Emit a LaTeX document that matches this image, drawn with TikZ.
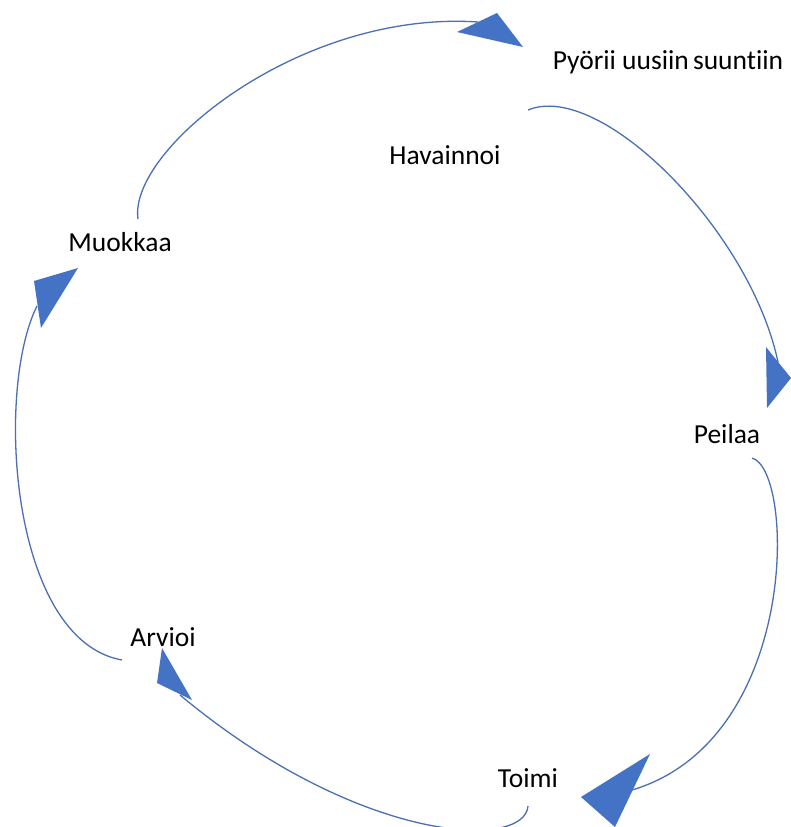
\documentclass[tikz,border=0pt]{standalone}
\usepackage{fontspec}
\setmainfont[Ligatures=NoCommon]{Carlito}
\begin{document}
\definecolor{cyclefill}{HTML}{4472C4}
\definecolor{cycleline}{HTML}{4A6FB3}
\begin{tikzpicture}[x=1pt,y=-1pt,
  label/.style={font=\fontsize{27.5}{30}\selectfont, inner sep=0pt, text=black},
  link/.style={draw=cycleline, line width=1.3pt},
  headtri/.style={fill=cyclefill, draw=none}]
\useasboundingbox (0,0) rectangle (790,827);

% stage labels
\node[label] (pyorii) at (668,62) {Pyörii uusiin\hspace{-2pt} suuntiin};
\node[label] (havainnoi) at (445,155) {Havainnoi};
\node[label] (peilaa) at (727,434) {Peilaa};
\node[label] (toimi) at (528,778) {Toimi};
\node[label] (arvioi) at (163,637) {Arvioi};
\node[label] (muokkaa) at (120,242) {Muokkaa};

% curve end points
\coordinate (a0) at (138,219);
\coordinate (a1) at (478,22);
\coordinate (b0) at (528,110);
\coordinate (b1) at (778,362);
\coordinate (c0) at (752,458);
\coordinate (c1) at (632,790);
\coordinate (d0) at (528,806);
\coordinate (d1) at (180,695);
\coordinate (e0) at (122,660);
\coordinate (e1) at (37,306);

% connecting arcs
\draw[link] (a0) .. controls (128,150) and (300,10) .. (a1);
\draw[link] (b0) .. controls (600,80) and (750,230) .. (b1);
\draw[link] (c0) .. controls (795,470) and (800,740) .. (c1);
\draw[link] (d0) .. controls (525,850) and (360,845) .. (d1);
\draw[link] (e0) .. controls (10,640) and (-5,390) .. (e1);

% arrowheads
\fill[headtri] (457,32) -- (497,13) -- (523,47) -- cycle;
\fill[headtri] (766,347) -- (791,378) -- (767,408) -- cycle;
\fill[headtri] (650,754) -- (581,797) -- (615,827) -- cycle;
\fill[headtri] (162,648) -- (157,683) -- (192,700) -- cycle;
\fill[headtri] (34,281) -- (78,268) -- (41,328) -- cycle;
\end{tikzpicture}
\end{document}
